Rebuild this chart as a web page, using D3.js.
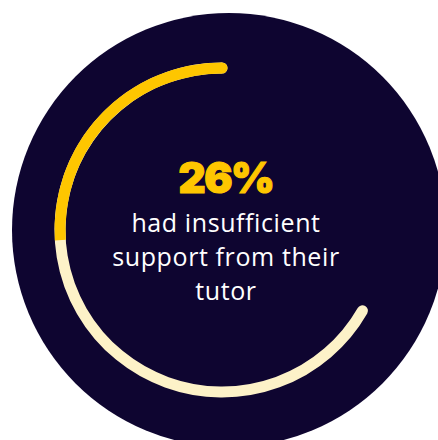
<!DOCTYPE html>
<html>
<head>
<meta charset="utf-8">
<script src="https://cdn.jsdelivr.net/npm/d3@7"></script>
<style>
  html, body { margin: 0; padding: 0; background: #ffffff; }
  svg { display: block; }
</style>
</head>
<body>
<svg id="chart" width="438" height="440"></svg>
<script>
// Share of respondents, shown as a radial gauge
const statValues = [26];              // percent
const statLabels = ["26%"];
const captionLines = ["had insufficient", "support from their", "tutor"];
const trackExtent = [0, 100];         // percent range covered by the full circle
const trackSpan = [0, 66.7];          // visible part of the track, in percent of a turn

const colors = {
  disc: "#0e0530",
  value: "#fec600",
  track: "#fdf2c8",
  caption: "#ffffff"
};

const svg = d3.select("#chart");

// Background disc
const disc = { cx: 229, cy: 230, r: 217 };
svg.append("circle")
  .attr("cx", disc.cx).attr("cy", disc.cy).attr("r", disc.r)
  .attr("fill", colors.disc);

// Gauge geometry
const gauge = { cx: 222, cy: 230, r: 162, thickness: 11 };

// Percent -> angle (radians, 0 at 12 o'clock, filling counter-clockwise)
const angle = d3.scaleLinear().domain(trackExtent).range([0, -2 * Math.PI]);

// Point on the gauge ring for a given angle
const ringPoint = a => [gauge.cx + gauge.r * Math.sin(a), gauge.cy - gauge.r * Math.cos(a)];

// Arc path along the ring between two angles (d3 convention)
function ringPath(a0, a1) {
  const p = d3.path();
  // d3.path angles start at 3 o'clock; shift by -90deg
  p.arc(gauge.cx, gauge.cy, gauge.r, a0 - Math.PI / 2, a1 - Math.PI / 2, a1 < a0);
  return p.toString();
}

const g = svg.append("g");

// Full track
g.append("path")
  .attr("d", ringPath(angle(trackSpan[0]), angle(trackSpan[1])))
  .attr("fill", "none")
  .attr("stroke", colors.track)
  .attr("stroke-width", gauge.thickness)
  .attr("stroke-linecap", "round");

// Value arc
const v0 = angle(0), v1 = angle(statValues[0]);
g.append("path")
  .attr("d", ringPath(v0, v1))
  .attr("fill", "none")
  .attr("stroke", colors.value)
  .attr("stroke-width", gauge.thickness)
  .attr("stroke-linecap", "butt");

// Rounded cap at the start of the value arc
const [sx, sy] = ringPoint(v0);
g.append("circle")
  .attr("cx", sx).attr("cy", sy).attr("r", gauge.thickness / 2)
  .attr("fill", colors.value);

// Central figure
const textX = 226;
svg.append("text")
  .attr("x", textX).attr("y", 193)
  .attr("text-anchor", "middle")
  .attr("font-family", "Inter, 'Noto Sans', sans-serif")
  .attr("font-weight", 900)
  .attr("font-size", 42)
  .attr("letter-spacing", -1.5)
  .attr("fill", colors.value)
  .attr("stroke", colors.value)
  .attr("stroke-width", 1.2)
  .text(statLabels[0]);

// Caption
svg.append("text")
  .attr("text-anchor", "middle")
  .attr("font-family", "'Open Sans', 'Noto Sans', sans-serif")
  .attr("font-weight", 400)
  .attr("font-size", 25)
  .attr("letter-spacing", 0.6)
  .attr("fill", colors.caption)
  .selectAll("tspan")
  .data(captionLines)
  .join("tspan")
  .attr("x", textX)
  .attr("y", (d, i) => 232 + i * 34)
  .text(d => d);
</script>
</body>
</html>
